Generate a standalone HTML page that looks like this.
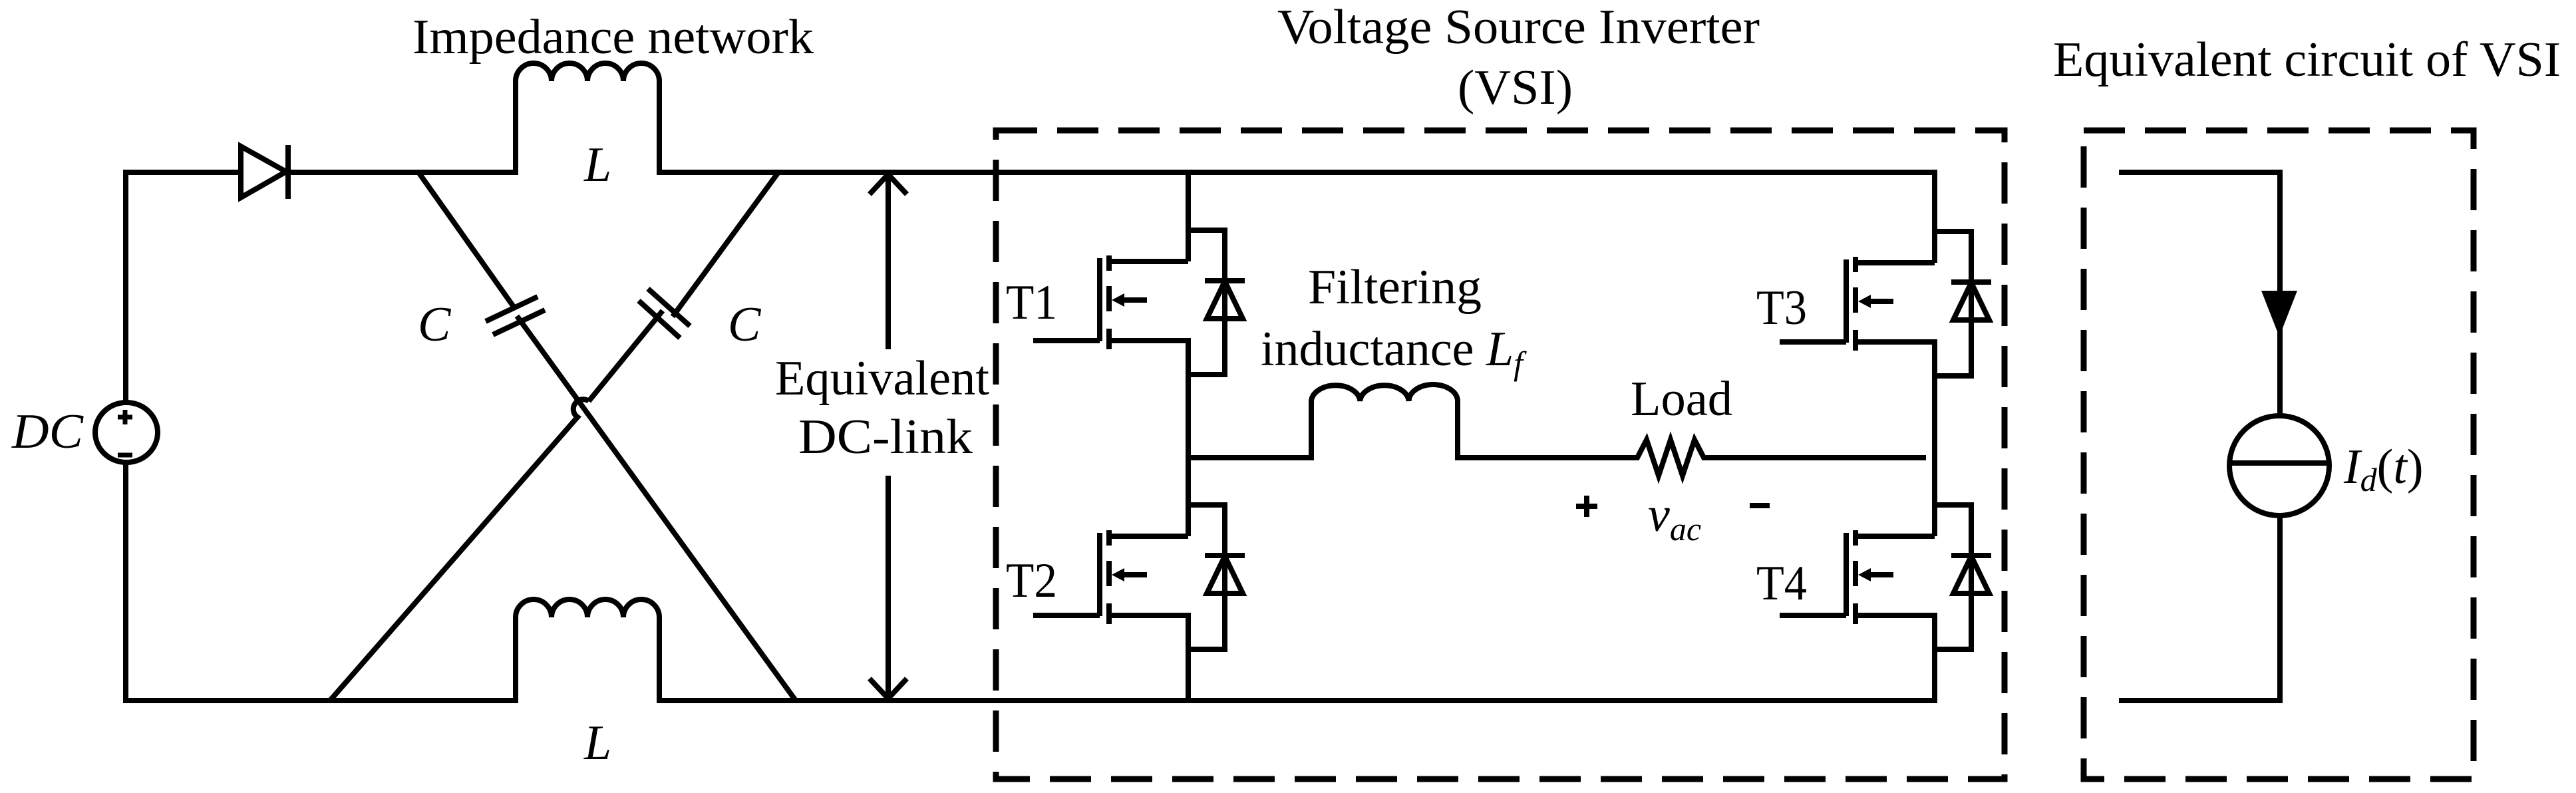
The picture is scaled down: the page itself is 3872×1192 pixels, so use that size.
<!DOCTYPE html>
<html><head><meta charset="utf-8"><style>html,body{margin:0;padding:0;background:#fff}svg{display:block}text{font-family:"Liberation Serif",serif}</style></head>
<body>
<svg width="3872" height="1192" viewBox="0 0 3872 1192" xmlns="http://www.w3.org/2000/svg">
<defs>
<g id="sw" fill="none" stroke="#000" stroke-width="8">
  <path d="M-119,0 H0 M0,0 V-47 H55 V170 H0 M-119,119 H0 V170"/>
  <path d="M-119,-9 V14 M-119,37 V75 M-119,101 V132"/>
  <path d="M-133,-5 V120 M-233,119 H-133"/>
  <path d="M-100,58 H-62"/>
  <polygon points="-115,58 -96,48 -96,68" fill="#000" stroke="none"/>
  <polygon points="28,86 82,86 55,30"/>
  <path d="M25,29 H85"/>
</g>
</defs>
<rect width="3872" height="1192" fill="#fff"/>
<g fill="none" stroke="#000" stroke-width="8" stroke-linejoin="miter">
  <path d="M189,605 V259 H362 M433,259 H775 V122 a27,27 0 0 1 54,0 a27,27 0 0 1 54,0 a27,27 0 0 1 54,0 a27,27 0 0 1 54,0 V259 H2908 V395"/>
  <path d="M189,696 V1053 H775 V928 a27,27 0 0 1 54,0 a27,27 0 0 1 54,0 a27,27 0 0 1 54,0 a27,27 0 0 1 54,0 V1053 H2908 V976"/>
  <ellipse cx="190" cy="650" rx="47" ry="45"/>
  <path d="M188,616 V638 M177,627 H199 M177,684 H199" stroke-width="7"/>
  <polygon points="362,220 362,297 430,258"/>
  <path d="M433,218 V299"/>
  <path d="M629,259 L772,461 M777,475 L1196,1053"/>
  <path d="M730,483 L808,446 M741,503 L819,466"/>
  <path d="M1170,259 L1011,476 M996,467 L885,603"/>
  <path d="M960,452 L1022,508 M974,434 L1037,490"/>
  <path d="M885,603 A14,14 0 0 0 868,627 L496,1053"/>
  <path d="M1335,262 V525 M1335,715 V1050"/>
  <path d="M1307,292 L1335,262 L1363,292 M1307,1020 L1335,1050 L1363,1020"/>
  <path d="M1786,259 V393 M1786,563 V806 M1786,976 V1053"/>
  <path d="M2908,565 V806"/>
  <path d="M1786,688 H1971 V603 a36.7,25 0 0 1 73.3,0 a36.7,25 0 0 1 73.3,0 a36.7,25 0 0 1 73.4,0 V688 H2461 L2475,661 L2493,715 L2511,661 L2529,715 L2547,661 L2561,688 H2895"/>
  <rect x="1497" y="196" width="1516" height="975" stroke-dasharray="62 30" stroke-width="9"/>
  <rect x="3132" y="196" width="586" height="975" stroke-dasharray="62 30" stroke-width="9"/>
  <path d="M3185,259 H3427 V624 M3427,776 V1053 H3185"/>
  <circle cx="3426" cy="700" r="75"/>
  <path d="M3351,696 H3501"/>
</g>
<polygon points="3399,437 3453,437 3426,506" fill="#000"/>
<use href="#sw" x="1786" y="393"/>
<use href="#sw" x="1786" y="806"/>
<use href="#sw" x="2908" y="395"/>
<use href="#sw" x="2908" y="806"/>
<g font-size="74" fill="#000">
  <text x="620" y="80" textLength="603" lengthAdjust="spacingAndGlyphs">Impedance network</text>
  <text x="878" y="272" font-style="italic">L</text>
  <text x="878" y="1141" font-style="italic">L</text>
  <text x="628" y="512" font-style="italic">C</text>
  <text x="1094" y="512" font-style="italic">C</text>
  <text x="18" y="673" font-style="italic" textLength="107" lengthAdjust="spacingAndGlyphs">DC</text>
  <text x="1165" y="593" textLength="322" lengthAdjust="spacingAndGlyphs">Equivalent</text>
  <text x="1200" y="681" textLength="262" lengthAdjust="spacingAndGlyphs">DC-link</text>
  <text x="1920" y="65" textLength="725" lengthAdjust="spacingAndGlyphs">Voltage Source Inverter</text>
  <text x="2191" y="156" textLength="173" lengthAdjust="spacingAndGlyphs">(VSI)</text>
  <text x="1512" y="479" textLength="77" lengthAdjust="spacingAndGlyphs">T1</text>
  <text x="1512" y="897" textLength="77" lengthAdjust="spacingAndGlyphs">T2</text>
  <text x="2640" y="487" textLength="76" lengthAdjust="spacingAndGlyphs">T3</text>
  <text x="2640" y="901" textLength="76" lengthAdjust="spacingAndGlyphs">T4</text>
  <text x="1966" y="456" textLength="261" lengthAdjust="spacingAndGlyphs">Filtering</text>
  <text x="1895" y="549">inductance <tspan font-style="italic">L</tspan><tspan font-style="italic" font-size="50" dy="14">f</tspan></text>
  <text x="2451" y="624" textLength="153" lengthAdjust="spacingAndGlyphs">Load</text>
  <text x="2477" y="798" font-style="italic">v<tspan font-size="50" dy="14">ac</tspan></text>
  <text x="3523" y="726" font-style="italic">I<tspan font-size="50" dy="12">d</tspan><tspan dy="-12" font-style="normal">(</tspan>t<tspan font-style="normal">)</tspan></text>
  <text x="3086" y="114" textLength="763" lengthAdjust="spacingAndGlyphs">Equivalent circuit of VSI</text>
</g>
<g stroke="#000" stroke-width="8">
  <path d="M2385,745 V777 M2369,761 H2401"/>
  <path d="M2630,760 H2660"/>
</g>
</svg>
</body></html>
